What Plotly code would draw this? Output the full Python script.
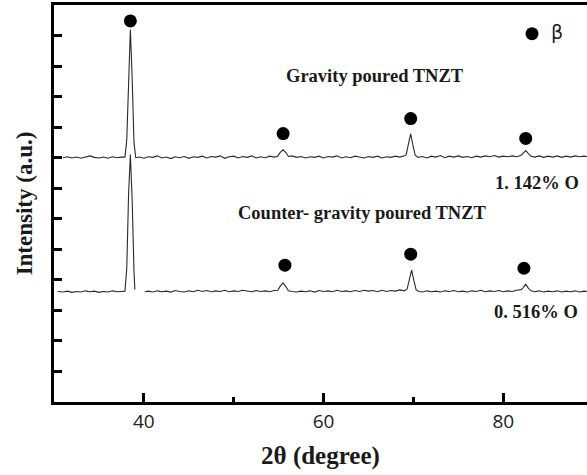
import plotly.graph_objects as go

# Upper pattern: gravity poured TNZT
upper_x = [31.0, 31.5, 32.0, 32.5, 33.0, 33.5, 34.0, 34.5, 35.0, 35.5, 36.0, 36.5, 37.0, 37.5,
           37.9, 38.1, 38.3, 38.5, 38.7, 38.9, 39.1,
           39.5, 40.0, 40.5, 41.0, 41.5, 42.0, 42.5, 43.0, 43.5, 44.0, 44.5, 45.0, 45.5, 46.0, 46.5,
           47.0, 47.5, 48.0, 48.5, 49.0, 49.5, 50.0, 50.5, 51.0, 51.5, 52.0, 52.5, 53.0, 53.5, 54.0, 54.5,
           54.9, 55.2, 55.5, 55.8, 56.1, 56.5,
           57.0, 57.5, 58.0, 58.5, 59.0, 59.5, 60.0, 60.5, 61.0, 61.5, 62.0, 62.5, 63.0, 63.5, 64.0, 64.5,
           65.0, 65.5, 66.0, 66.5, 67.0, 67.5, 68.0, 68.5, 69.0,
           69.2, 69.45, 69.7, 69.95, 70.2, 70.5,
           71.0, 71.5, 72.0, 72.5, 73.0, 73.5, 74.0, 74.5, 75.0, 75.5, 76.0, 76.5, 77.0, 77.5, 78.0, 78.5,
           79.0, 79.5, 80.0, 80.5, 81.0, 81.5, 82.0,
           82.2, 82.5, 82.8, 83.1,
           83.5, 84.0, 84.5, 85.0, 85.5, 86.0, 86.5, 87.0, 87.5, 88.0, 88.5, 89.0, 89.5]
upper_y = [8.00, 8.03, 7.99, 8.02, 7.98, 8.03, 8.06, 8.01, 7.99, 8.02, 7.98, 8.03, 8.00, 8.02,
           8.02, 8.60, 10.80, 12.20, 10.60, 8.50, 8.00,
           8.02, 7.98, 8.03, 8.01, 8.06, 7.99, 8.02, 7.97, 8.03, 8.00, 8.04, 7.98, 8.03, 8.01, 8.05,
           7.99, 8.04, 8.02, 8.06, 7.98, 8.03, 8.05, 7.99, 8.04, 8.01, 8.06, 7.99, 8.03, 8.00, 8.05, 8.02,
           8.05, 8.18, 8.26, 8.17, 8.04, 8.06,
           8.01, 8.04, 7.99, 8.03, 8.01, 8.05, 7.99, 8.04, 8.02, 8.06, 7.99, 8.03, 8.00, 8.05, 8.02, 7.99,
           8.04, 8.01, 8.05, 7.99, 8.03, 8.01, 8.05, 8.02, 8.06,
           8.10, 8.45, 8.78, 8.40, 8.08, 8.01,
           8.04, 7.99, 8.05, 8.02, 8.07, 8.00, 8.05, 8.02, 8.06, 8.01, 8.04, 8.00, 8.05, 8.02, 8.06, 8.03,
           8.07, 8.02, 8.05, 8.03, 8.06, 8.03, 8.08,
           8.14, 8.23, 8.13, 8.05,
           8.02, 8.06, 8.01, 8.05, 8.02, 8.06, 8.01, 8.05, 8.02, 8.06, 8.03, 8.05, 8.02]

# Lower pattern: counter-gravity poured TNZT
lower_x = [30.4, 31.0, 31.5, 32.0, 32.5, 33.0, 33.5, 34.0, 34.5, 35.0, 35.5, 36.0, 36.5, 37.0, 37.5,
           37.9, 38.1, 38.3, 38.5, 38.7, 38.9, 39.0, 39.5,
           40.1, 40.5, 41.0, 41.5, 42.0, 42.5, 43.0, 43.5, 44.0, 44.5, 45.0, 45.5, 46.0, 46.5,
           47.0, 47.5, 48.0, 48.5, 49.0, 49.5, 50.0, 50.5, 51.0, 51.5, 52.0, 52.5, 53.0, 53.5, 54.0, 54.5,
           54.9, 55.2, 55.5, 55.8, 56.1, 56.5,
           57.0, 57.5, 58.0, 58.5, 59.0, 59.5, 60.0, 60.5, 61.0, 61.5, 62.0, 62.5, 63.0, 63.5, 64.0, 64.5,
           65.0, 65.5, 66.0, 66.5, 67.0, 67.5, 68.0, 68.5, 69.0,
           69.3, 69.55, 69.8, 70.05, 70.3, 70.6,
           71.0, 71.5, 72.0, 72.5, 73.0, 73.5, 74.0, 74.5, 75.0, 75.5, 76.0, 76.5, 77.0, 77.5, 78.0, 78.5,
           79.0, 79.5, 80.0, 80.5, 81.0, 81.5, 82.0,
           82.2, 82.5, 82.8, 83.1,
           83.5, 84.0, 84.5, 85.0, 85.5, 86.0, 86.5, 87.0, 87.5, 88.0, 88.5, 89.0, 89.5]
lower_y = [3.62, 3.60, 3.63, 3.59, 3.62, 3.60, 3.64, 3.61, 3.63, 3.59, 3.62, 3.60, 3.64, 3.61, 3.62,
           3.63, 4.40, 6.80, 8.10, 6.60, 4.30, 3.68, None,
           3.61, 3.63, 3.60, 3.64, 3.61, 3.63, 3.60, 3.65, 3.62, 3.60, 3.64, 3.61, 3.66, 3.62,
           3.65, 3.61, 3.64, 3.62, 3.66, 3.61, 3.64, 3.62, 3.66, 3.63, 3.61, 3.65, 3.62, 3.64, 3.61, 3.65,
           3.66, 3.80, 3.90, 3.78, 3.64, 3.62,
           3.60, 3.63, 3.61, 3.64, 3.60, 3.65, 3.62, 3.64, 3.61, 3.66, 3.62, 3.64, 3.61, 3.65, 3.62, 3.66,
           3.63, 3.65, 3.61, 3.66, 3.62, 3.65, 3.63, 3.67, 3.64,
           3.70, 4.00, 4.32, 3.98, 3.68, 3.62,
           3.60, 3.64, 3.61, 3.63, 3.60, 3.64, 3.62, 3.65, 3.61, 3.63, 3.60, 3.64, 3.62, 3.66, 3.61, 3.64,
           3.62, 3.65, 3.61, 3.64, 3.62, 3.66, 3.68,
           3.74, 3.86, 3.72, 3.64,
           3.61, 3.64, 3.60, 3.63, 3.61, 3.64, 3.60, 3.63, 3.61, 3.64, 3.60, 3.63, 3.61]

# beta-phase markers
beta_x = [38.5, 55.5, 69.7, 82.5, 55.7, 69.7, 82.3, 83.2]
beta_y = [12.48, 8.79, 9.28, 8.63, 4.48, 4.84, 4.38, 12.06]

labels = ["<b>Gravity poured TNZT</b>", "<b>1. 142% O</b>",
          "<b>Counter- gravity poured TNZT</b>", "<b>0. 516% O</b>"]
label_x = [65.7, 83.8, 64.3, 83.6]
label_y = [10.69, 7.16, 6.2, 2.94]

beta_label = "β"
beta_label_x = 86.0
beta_label_y = 12.1

x_ticks = [40, 60, 80]

serif = "Liberation Serif, Times New Roman, serif"

fig = go.Figure()
fig.add_trace(go.Scatter(x=upper_x, y=upper_y, mode="lines",
                         line=dict(color="#2a2a2a", width=1.1), showlegend=False))
fig.add_trace(go.Scatter(x=lower_x, y=lower_y, mode="lines",
                         line=dict(color="#2a2a2a", width=1.1), showlegend=False,
                         connectgaps=False))
fig.add_trace(go.Scatter(x=beta_x, y=beta_y, mode="markers",
                         marker=dict(color="black", size=13), showlegend=False))

for t, x, y in zip(labels, label_x, label_y):
    fig.add_annotation(x=x, y=y, text=t, showarrow=False, xanchor="center", yanchor="middle",
                       font=dict(family=serif, size=18.5, color="#1a1a1a"))
fig.add_annotation(x=beta_label_x, y=beta_label_y, text=beta_label, showarrow=False,
                   xanchor="center", yanchor="middle",
                   font=dict(family="DejaVu Sans, sans-serif", size=19, color="#2a1a2e"))

fig.update_layout(
    width=587, height=475, autosize=False,
    margin=dict(l=54, r=0, t=5, b=73),
    paper_bgcolor="white", plot_bgcolor="white",
    xaxis=dict(range=[30, 89.32], tickvals=x_ticks, ticktext=[str(v) for v in x_ticks],
               ticks="inside", ticklen=9, tickwidth=3, tickcolor="black",
               minor=dict(tickvals=[50, 70, 90], ticks="inside", ticklen=5, tickwidth=3, tickcolor="black"),
               showline=True, linewidth=3, linecolor="black", mirror=True,
               showgrid=False, zeroline=False,
               tickfont=dict(family="Open Sans, sans-serif", size=19, color="#222"),
               title=dict(text="<b>2θ (degree)</b>", standoff=14,
                          font=dict(family=serif, size=25, color="#1a1a1a"))),
    yaxis=dict(range=[0, 13], tickvals=list(range(1, 13)), showticklabels=False,
               ticks="inside", ticklen=8, tickwidth=3, tickcolor="black",
               showline=True, linewidth=3, linecolor="black", mirror=False,
               showgrid=False, zeroline=False,
               title=dict(text="<b>Intensity (a.u.)</b>", standoff=12,
                          font=dict(family=serif, size=23, color="#1a1a1a"))),
)

fig.write_html("out.html", config={"displayModeBar": False},
               post_script="document.body.style.margin='0px';")
